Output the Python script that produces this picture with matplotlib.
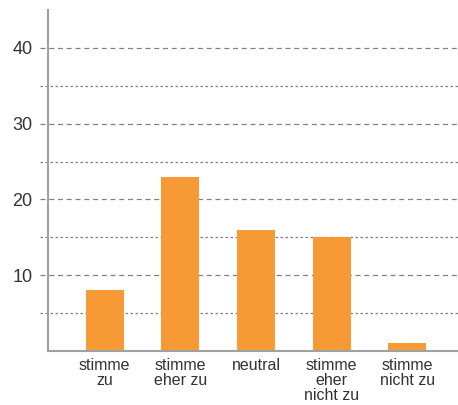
import matplotlib.pyplot as plt

categories = ['stimme\nzu', 'stimme\neher zu', 'neutral', 'stimme\neher\nnicht zu', 'stimme\nnicht zu']
values = [8, 23, 16, 15, 1]
major_ticks = [10, 20, 30, 40]
minor_ticks = [5, 15, 25, 35]

plt.rcParams['font.family'] = ['Liberation Sans', 'DejaVu Sans']

fig = plt.figure(figsize=(4.58, 4.05), dpi=100)
ax = fig.add_axes([48 / 458, 54 / 405, 410 / 458, 341 / 405])

x = list(range(len(categories)))

# gridlines, a little past the left axis
for y in major_ticks:
    ax.axhline(y, xmin=-0.02, xmax=1, color='#808080', lw=0.9, ls=(0, (4, 3)), clip_on=False, zorder=0)
for y in minor_ticks:
    ax.axhline(y, xmin=-0.02, xmax=1, color='#808080', lw=0.9, ls=(0, (2, 2)), clip_on=False, zorder=0)

ax.bar(x, values, width=0.5, color='#F79A36', zorder=2)

ax.set_xlim(-0.75, 4.67)
ax.set_ylim(0, 45)
ax.set_yticks(major_ticks)
ax.set_yticklabels([str(t) for t in major_ticks], fontsize=13, color='#333333')
ax.tick_params(axis='y', length=0, pad=11)
ax.set_xticks(x)
ax.set_xticklabels(categories, fontsize=11.5, color='#333333', linespacing=1.0)
ax.tick_params(axis='x', length=0, pad=5)

for side in ['top', 'right']:
    ax.spines[side].set_visible(False)
for side in ['left', 'bottom']:
    ax.spines[side].set_color('#a0a0a0')
    ax.spines[side].set_linewidth(1.5)

plt.savefig('out.png', dpi=100)
